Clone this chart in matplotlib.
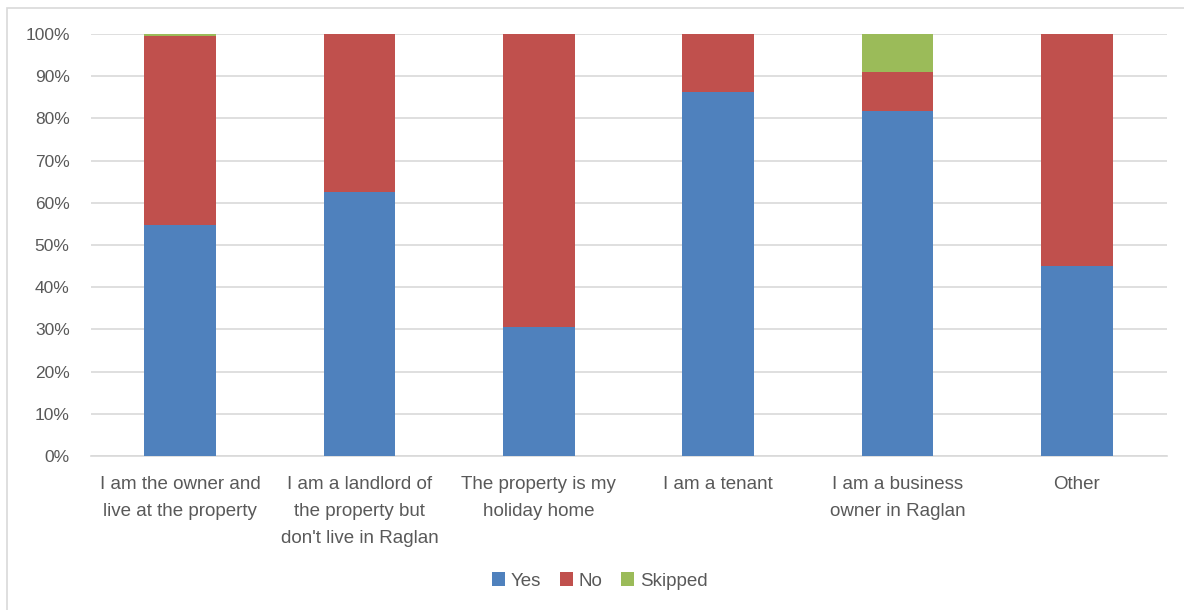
import matplotlib
matplotlib.use("Agg")
import matplotlib.pyplot as plt
from matplotlib.patches import Rectangle
from matplotlib.ticker import PercentFormatter

categories = [
    "I am the owner and\nlive at the property",
    "I am a landlord of\nthe property but\ndon't live in Raglan",
    "The property is my\nholiday home",
    "I am a tenant",
    "I am a business\nowner in Raglan",
    "Other",
]
yes = [54.7, 62.5, 30.5, 86.2, 81.8, 45.0]
no = [44.8, 37.5, 69.5, 13.8, 9.1, 55.0]
skipped = [0.5, 0.0, 0.0, 0.0, 9.1, 0.0]

plt.rcParams["font.family"] = ["Liberation Sans", "DejaVu Sans"]
text_color = "#595959"

fig = plt.figure(figsize=(11.84, 6.10), dpi=100)
ax = fig.add_axes([90.5 / 1184, 1 - 456 / 610, 1076 / 1184, 422 / 610])

# light frame round the chart (top and left edges visible)
fig.patches.append(Rectangle((7 / 1184, -0.1), 1.2, 1 - 8 / 610 + 0.1,
                             transform=fig.transFigure, fill=False,
                             edgecolor="#D9D9D9", linewidth=1.2))

x = range(len(categories))
w = 0.4
ax.bar(x, yes, w, color="#4F81BD", label="Yes", zorder=3)
ax.bar(x, no, w, bottom=yes, color="#C0504D", label="No", zorder=3)
bottom2 = [a + b for a, b in zip(yes, no)]
ax.bar(x, skipped, w, bottom=bottom2, color="#9BBB59", label="Skipped", zorder=3)

ax.set_xlim(-0.5, len(categories) - 0.5)
ax.set_ylim(0, 100)
ax.set_yticks(range(0, 101, 10))
ax.yaxis.set_major_formatter(PercentFormatter(decimals=0))
ax.grid(axis="y", color="#D9D9D9", linewidth=1.2, zorder=0)
for s in ["top", "right", "left"]:
    ax.spines[s].set_visible(False)
ax.spines["bottom"].set_color("#D9D9D9")
ax.spines["bottom"].set_linewidth(1.2)
ax.tick_params(axis="both", length=0, colors=text_color)
ax.tick_params(axis="y", pad=15, labelsize=12.5)
ax.tick_params(axis="x", pad=14.5, labelsize=13.5)
ax.set_xticks(list(x))
ax.set_xticklabels(categories, linespacing=1.75, va="top")

ax.legend(loc="center", bbox_to_anchor=(509 / 1076, -(581 - 456) / 422),
          ncol=3, frameon=False, fontsize=13.5, handlelength=0.7,
          handleheight=0.7, handletextpad=0.3, columnspacing=1.0,
          labelcolor=text_color)

fig.savefig("out.png", dpi=100)
